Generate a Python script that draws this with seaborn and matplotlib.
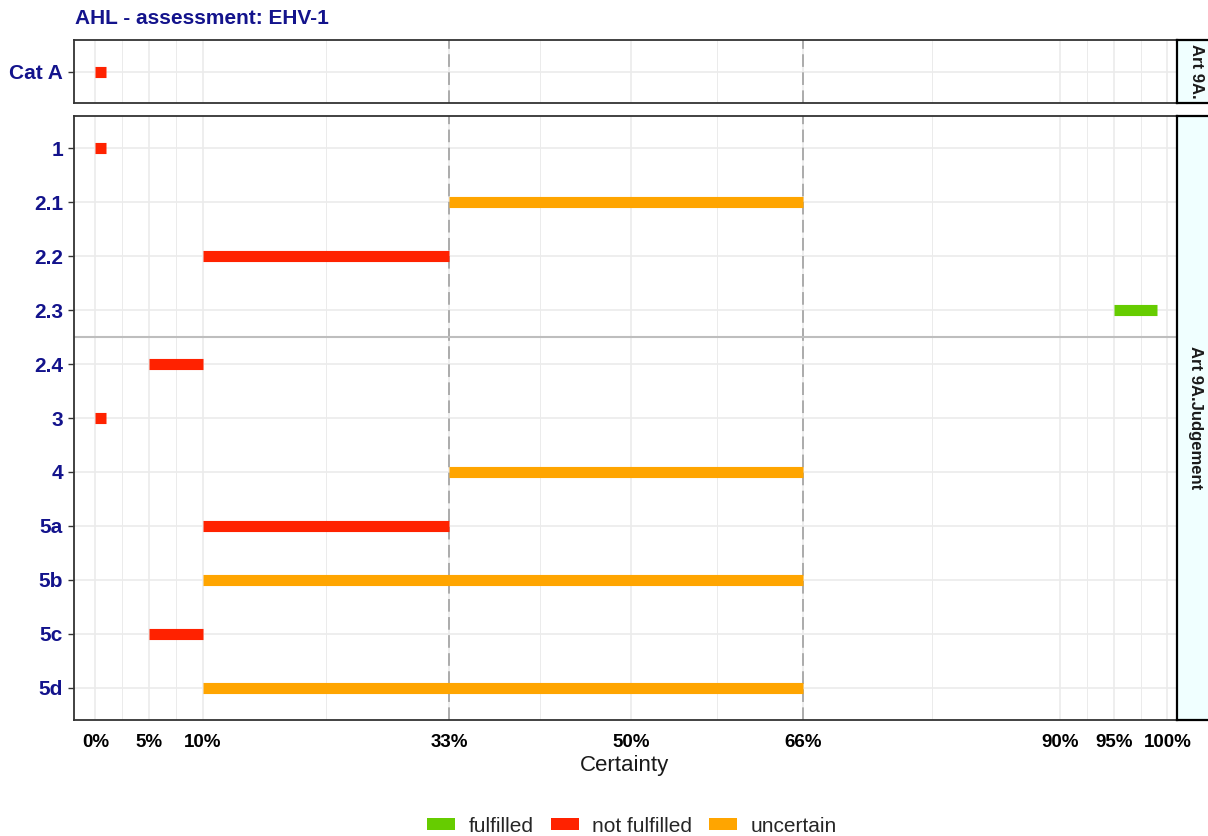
import pandas as pd
import seaborn as sns
import matplotlib.pyplot as plt
from matplotlib.patches import Patch

# Daten
top_items = ["Cat A"]
top_start = [0]
top_end = [1]
top_status = ["not fulfilled"]

items = ["1", "2.1", "2.2", "2.3", "2.4", "3", "4", "5a", "5b", "5c", "5d"]
starts = [0, 33, 10, 95, 5, 0, 33, 10, 10, 5, 10]
ends = [1, 66, 33, 99, 10, 1, 66, 33, 66, 10, 66]
status = ["not fulfilled", "uncertain", "not fulfilled", "fulfilled", "not fulfilled",
          "not fulfilled", "uncertain", "not fulfilled", "uncertain", "not fulfilled",
          "uncertain"]

tick_vals = [0, 5, 10, 33, 50, 66, 90, 95, 100]
tick_labels = ["0%", "5%", "10%", "33%", "50%", "66%", "90%", "95%", "100%"]
minor_vals = [2.5, 7.5, 21.5, 41.5, 58, 78, 92.5, 97.5]

palette = {"fulfilled": "#66CC00", "not fulfilled": "#FF2200", "uncertain": "#FFA500"}
navy = "#13138C"

sns.set_style("white")
plt.rcParams["font.family"] = ["Liberation Sans", "DejaVu Sans"]

W, H = 1208, 836
fig = plt.figure(figsize=(W / 100, H / 100), dpi=100)


def px_axes(x0, y0, x1, y1):
    return fig.add_axes([x0 / W, 1 - y1 / H, (x1 - x0) / W, (y1 - y0) / H])


def long_frame(names, s, e, st):
    rows = []
    for i, (n, a, b, c) in enumerate(zip(names, s, e, st)):
        rows.append({"item": n, "pos": i, "pct": a, "status": c})
        rows.append({"item": n, "pos": i, "pct": b, "status": c})
    return pd.DataFrame(rows)


def draw_panel(ax, names, s, e, st, show_x):
    df = long_frame(names, s, e, st)
    ax.set_facecolor("white")
    for v in minor_vals:
        ax.axvline(v, color="#EBEBEB", lw=0.7, zorder=0)
    for v in tick_vals:
        ax.axvline(v, color="#EBEBEB", lw=1.2, zorder=0)
    for i in range(len(names)):
        ax.axhline(i, color="#EBEBEB", lw=1.2, zorder=0)
    for v in [33, 66]:
        ax.axvline(v, color="#A6A6A6", lw=1.3, ls=(0, (7, 3)), zorder=1)
    sns.lineplot(data=df, x="pct", y="pos", hue="status", units="item",
                 estimator=None, palette=palette, linewidth=8, sort=False,
                 legend=False, ax=ax, solid_capstyle="butt", zorder=3)
    ax.set_xlim(-2, 100.9)
    ax.set_yticks(range(len(names)))
    ax.set_yticklabels(names, fontsize=15, fontweight="bold", color=navy)
    ax.set_xticks(tick_vals)
    if show_x:
        ax.set_xticklabels(tick_labels, fontsize=13.5, fontweight="bold", color="black")
        ax.tick_params(axis="x", length=4, width=1, color="#333333", pad=6)
    else:
        ax.set_xticklabels([])
        ax.tick_params(axis="x", length=0)
    ax.tick_params(axis="y", length=4, width=1, color="#333333", pad=4, left=True)
    ax.set_xlabel("")
    ax.set_ylabel("")
    for sp in ax.spines.values():
        sp.set_visible(True)
        sp.set_color("#333333")
        sp.set_linewidth(1.3)


def draw_strip(x0, y0, x1, y1, label):
    sax = px_axes(x0, y0, x1, y1)
    sax.set_facecolor("#F0FFFF")
    sax.set_xticks([])
    sax.set_yticks([])
    for sp in sax.spines.values():
        sp.set_visible(True)
        sp.set_color("black")
        sp.set_linewidth(1.6)
    sax.text(0.5, 0.5, label, rotation=-90, ha="center", va="center",
             fontsize=12, fontweight="bold", color="#1A1A1A",
             transform=sax.transAxes)


ax_top = px_axes(74, 40, 1177, 103)
draw_panel(ax_top, top_items, top_start, top_end, top_status, False)
ax_top.set_ylim(0.6, -0.6)

ax_bot = px_axes(74, 116, 1177, 720)
draw_panel(ax_bot, items, starts, ends, status, True)
ax_bot.set_ylim(10.6, -0.6)
ax_bot.axhline(3.5, color="#BEBEBE", lw=1.5, zorder=2)

draw_strip(1177, 40, 1215, 103, "Art 9A.")
draw_strip(1177, 116, 1215, 720, "Art 9A.Judgement")

fig.text(75 / W, 1 - 18 / H, "AHL - assessment: EHV-1", fontsize=15,
         fontweight="bold", color=navy, ha="left", va="center")
fig.text(625 / W, 1 - 766 / H, "Certainty", fontsize=16, ha="center", va="center",
         color="#1A1A1A")

handles = [Patch(facecolor=palette[k], edgecolor="none") for k in palette]
fig.legend(handles, list(palette.keys()), loc="center",
           bbox_to_anchor=(632 / W, 1 - 826 / H), ncol=3, frameon=False,
           fontsize=15, handlelength=1.35, handleheight=0.55,
           handletextpad=0.65, columnspacing=0.8)

fig.savefig("out.png", dpi=100)
